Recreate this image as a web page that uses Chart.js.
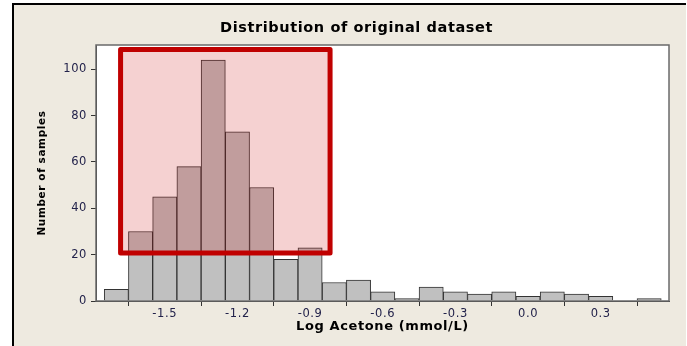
<!DOCTYPE html>
<html>
<head>
<meta charset="utf-8">
<script src="https://cdn.jsdelivr.net/npm/chart.js@4/dist/chart.umd.min.js"></script>
<style>
  html, body { margin: 0; padding: 0; background: #fff; overflow: hidden; }
  #chart { display: block; }
</style>
</head>
<body>
<canvas id="chart" width="687" height="346"></canvas>
<script>
// bin centres (log acetone, bin width 0.1) and counts
const binCenters = [-1.7, -1.6, -1.5, -1.4, -1.3, -1.2, -1.1, -1.0, -0.9, -0.8, -0.7, -0.6,
                    -0.5, -0.4, -0.3, -0.2, -0.1, 0.0, 0.1, 0.2, 0.3, 0.4, 0.5];
const sampleCounts = [5, 30, 45, 58, 104, 73, 49, 18, 23, 8, 9, 4,
                      1, 6, 4, 3, 4, 2, 4, 3, 2, 0, 1];

// axis ticks
const xTickValues = [-1.5, -1.2, -0.9, -0.6, -0.3, 0.0, 0.3];
const yTickValues = [0, 20, 40, 60, 80, 100];

// highlighted region (data units)
const highlightX = [-1.6825, -0.8175];
const highlightY = [20.7, 108.6];

const inkTicks = '#22224a';
const tickFont = { family: 'DejaVu Sans', size: 11.5 };

// slightly wider, Verdana-like spacing for all text
const wideText = {
  id: 'wideText',
  beforeUpdate(chart) { chart.ctx.letterSpacing = '0.6px'; },
  beforeDraw(chart) { chart.ctx.letterSpacing = '0.6px'; }
};

// beige panel, white plot area and plot frame
const panel = {
  id: 'panel',
  beforeDraw(chart) {
    const { ctx, chartArea: a } = chart;
    ctx.save();
    ctx.fillStyle = '#fff';
    ctx.fillRect(0, 0, chart.width, chart.height);
    ctx.fillStyle = '#EEEAE0';
    ctx.fillRect(12, 3, 674, chart.height - 3);
    ctx.fillStyle = '#000';
    ctx.fillRect(12, 3, 674, 2);
    ctx.fillRect(12, 3, 2, chart.height - 3);
    ctx.fillStyle = '#fff';
    ctx.fillRect(a.left, a.top, a.right - a.left, a.bottom - a.top);
    ctx.restore();
  },
  afterDraw(chart) {
    const { ctx, chartArea: a } = chart;
    ctx.save();
    ctx.strokeStyle = '#6a6a6a';
    ctx.lineWidth = 1.5;
    ctx.strokeRect(a.left, a.top, a.right - a.left, a.bottom - a.top);
    ctx.restore();
  }
};

// red highlight box drawn through the scales
const highlightBox = {
  id: 'highlightBox',
  afterDatasetsDraw(chart) {
    const { ctx, scales: { x, y } } = chart;
    const x1 = x.getPixelForValue(highlightX[0]);
    const x2 = x.getPixelForValue(highlightX[1]);
    const y1 = y.getPixelForValue(highlightY[1]);
    const y2 = y.getPixelForValue(highlightY[0]);
    ctx.save();
    ctx.fillStyle = 'rgba(200, 0, 0, 0.18)';
    ctx.fillRect(x1, y1, x2 - x1, y2 - y1);
    ctx.strokeStyle = '#C00000';
    ctx.lineWidth = 5;
    ctx.lineJoin = 'round';
    ctx.strokeRect(x1, y1, x2 - x1, y2 - y1);
    ctx.restore();
  }
};

new Chart(document.getElementById('chart'), {
  type: 'bar',
  data: {
    datasets: [{
      data: binCenters.map((c, i) => ({ x: c, y: sampleCounts[i] })),
      backgroundColor: '#C0C0C0',
      borderColor: '#333',
      borderWidth: 1,
      barPercentage: 1,
      categoryPercentage: 1
    }]
  },
  options: {
    responsive: false,
    devicePixelRatio: 1,
    animation: false,
    layout: { padding: { left: 44, right: 18, top: 0, bottom: 0 } },
    plugins: {
      legend: { display: false },
      tooltip: { enabled: false },
      title: {
        display: true,
        text: 'Distribution of original dataset',
        color: '#000',
        font: { family: 'DejaVu Sans', size: 14.5, weight: 'bold' },
        padding: { top: 19.3, bottom: 8.3 }
      }
    },
    scales: {
      x: {
        type: 'linear',
        offset: false,
        min: -1.784,
        max: 0.582,
        afterBuildTicks: s => { s.ticks = xTickValues.map(v => ({ value: v })); },
        afterFit: s => { s.height = 45; },
        ticks: { color: inkTicks, font: tickFont, padding: 1, maxRotation: 0,
                 callback: v => v.toFixed(1) },
        grid: { display: true, drawOnChartArea: false, drawTicks: true, tickLength: 5, color: '#333' },
        border: { display: true, color: '#333' },
        title: { display: true, text: 'Log Acetone (mmol/L)', color: '#000',
                 font: { family: 'DejaVu Sans', size: 13, weight: 'bold' },
                 padding: { top: 0, bottom: 11.2 } }
      },
      y: {
        min: 0,
        max: 110.5,
        afterBuildTicks: s => { s.ticks = yTickValues.map(v => ({ value: v })); },
        afterFit: s => { s.width = 52; },
        ticks: { color: inkTicks, font: tickFont, padding: 4 },
        grid: { display: true, drawOnChartArea: false, drawTicks: true, tickLength: 5, color: '#333' },
        border: { display: true, color: '#333' },
        title: { display: true, text: 'Number of samples', color: '#000',
                 font: { family: 'DejaVu Sans', size: 10.5, weight: 'bold' },
                 padding: { top: -8.3, bottom: 0 } }
      }
    }
  },
  plugins: [wideText, panel, highlightBox]
});
</script>
</body>
</html>
